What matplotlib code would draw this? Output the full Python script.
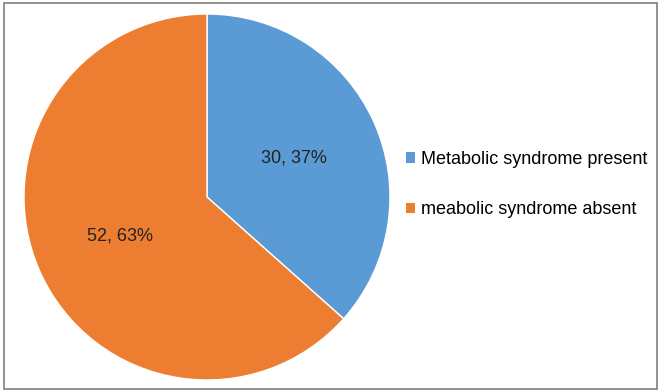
import matplotlib
matplotlib.use("Agg")
import matplotlib.pyplot as plt
from matplotlib.patches import Rectangle

# data
labels = ["Metabolic syndrome present", "meabolic syndrome absent"]
counts = [30, 52]
colors = ["#5B9BD5", "#ED7D31"]

plt.rcParams['font.family'] = ['Liberation Sans', 'DejaVu Sans']

fig = plt.figure(figsize=(6.61, 3.92), dpi=100)

# frame around the whole chart
fig.patches.append(Rectangle((4 / 661, 1 - 389 / 392), 653 / 661, 386 / 392,
                             transform=fig.transFigure, fill=False,
                             edgecolor="#7f7f7f", linewidth=1.2))

ax = fig.add_axes([24 / 661, 12 / 392, 366 / 661, 366 / 392])

total = sum(counts)


def fmt(pct):
    # show count and rounded percent, like "30, 37%"
    n = int(round(pct * total / 100.0))
    return "%d, %d%%" % (n, round(pct))


wedges, texts = ax.pie(counts, colors=colors, startangle=90, counterclock=False,
                       radius=1.0, pctdistance=0.52, autopct=fmt,
                       wedgeprops=dict(edgecolor="white", linewidth=1),
                       textprops=dict(fontsize=13, color="#222222"))[:2]
ax.set_xlim(-1, 1)
ax.set_ylim(-1, 1)
ax.set_aspect("equal")

leg = fig.legend(wedges, labels, loc="center left",
                 bbox_to_anchor=(406 / 661, 1 - 184.5 / 392),
                 frameon=False, fontsize=13, handlelength=0.5, handleheight=0.5,
                 handletextpad=0.35, labelspacing=1.85, borderpad=0, borderaxespad=0)
for h in leg.legend_handles:
    h.set_edgecolor("none")

fig.savefig("out.png", dpi=100)
